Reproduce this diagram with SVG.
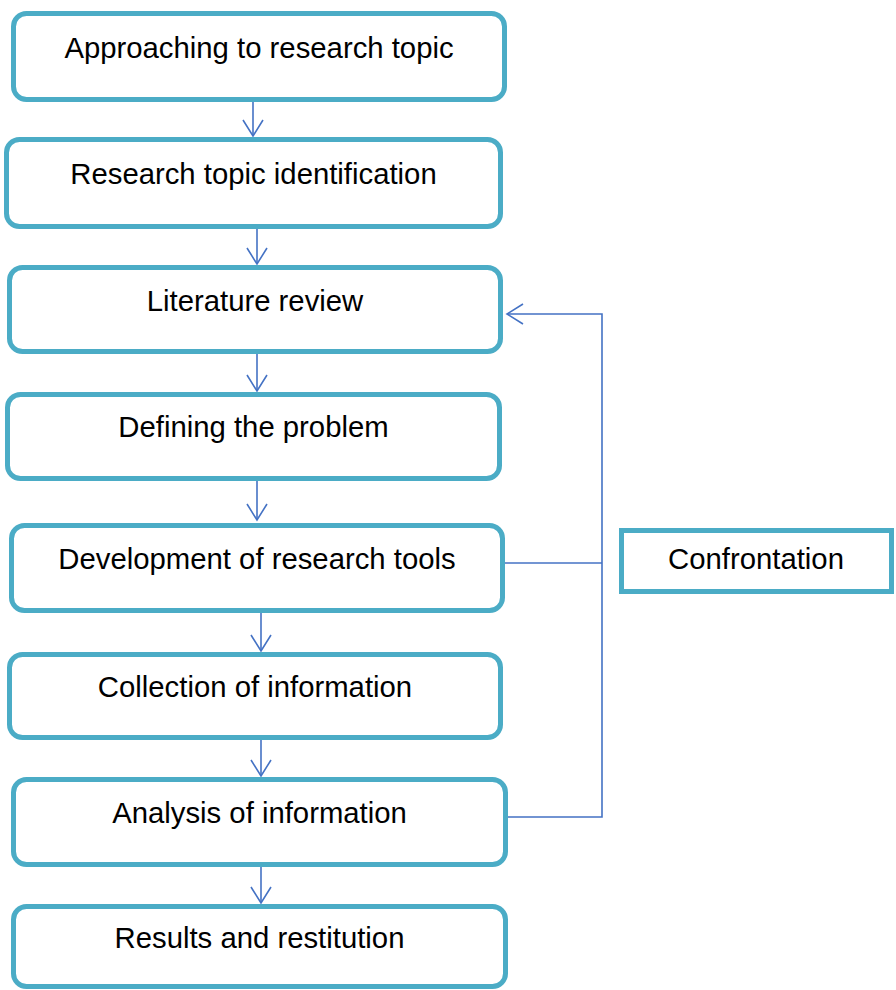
<svg xmlns="http://www.w3.org/2000/svg" width="896" height="990" viewBox="0 0 896 990">
  <style>
    .box { fill: #ffffff; stroke: #4BACC6; stroke-width: 5; }
    .lbl { font-family: "Liberation Sans", Arial, sans-serif; font-size: 29.3px; fill: #000000; text-anchor: middle; }
    .conn { fill: none; stroke: #4472C4; stroke-width: 1.6; }
  </style>
  <defs>
    <marker id="open-arrow" markerUnits="userSpaceOnUse" markerWidth="20" markerHeight="22" viewBox="-17 -11 18 22" refX="0" refY="0" orient="auto">
      <path d="M-16,-10 L0,0 L-16,10" fill="none" stroke="#4472C4" stroke-width="1.6"/>
    </marker>
  </defs>

  <rect width="896" height="990" fill="#ffffff"/>

  <g id="connectors">
    <line class="conn" x1="253" y1="102" x2="253" y2="136" marker-end="url(#open-arrow)"/>
    <line class="conn" x1="257" y1="229" x2="257" y2="264" marker-end="url(#open-arrow)"/>
    <line class="conn" x1="257" y1="354" x2="257" y2="391" marker-end="url(#open-arrow)"/>
    <line class="conn" x1="257" y1="481" x2="257" y2="520" marker-end="url(#open-arrow)"/>
    <line class="conn" x1="261" y1="613" x2="261" y2="651" marker-end="url(#open-arrow)"/>
    <line class="conn" x1="261" y1="740" x2="261" y2="776" marker-end="url(#open-arrow)"/>
    <line class="conn" x1="261" y1="867" x2="261" y2="903" marker-end="url(#open-arrow)"/>
    <!-- feedback loop through Confrontation back to the literature review -->
    <polyline class="conn" points="505,563 602,563"/>
    <polyline class="conn" points="508,817 602,817 602,314 507,314" marker-end="url(#open-arrow)"/>
  </g>

  <g id="approaching">
    <rect class="box" x="13.5" y="13.5" width="491" height="86" rx="13"/>
    <text class="lbl" x="259" y="58">Approaching to research topic</text>
  </g>
  <g id="identification">
    <rect class="box" x="6.5" y="139.5" width="494" height="87" rx="13"/>
    <text class="lbl" x="253.5" y="184">Research topic identification</text>
  </g>
  <g id="literature">
    <rect class="box" x="9.5" y="267.5" width="491" height="84" rx="13"/>
    <text class="lbl" x="255" y="311">Literature review</text>
  </g>
  <g id="problem">
    <rect class="box" x="7.5" y="394.5" width="492" height="84" rx="13"/>
    <text class="lbl" x="253.5" y="437">Defining the problem</text>
  </g>
  <g id="tools">
    <rect class="box" x="11.5" y="525.5" width="491" height="85" rx="13"/>
    <text class="lbl" x="257" y="569">Development of research tools</text>
  </g>
  <g id="collection">
    <rect class="box" x="9.5" y="654.5" width="491" height="83" rx="13"/>
    <text class="lbl" x="255" y="697">Collection of information</text>
  </g>
  <g id="analysis">
    <rect class="box" x="13.5" y="779.5" width="492" height="85" rx="13"/>
    <text class="lbl" x="259.5" y="823">Analysis of information</text>
  </g>
  <g id="results">
    <rect class="box" x="13.5" y="906.5" width="492" height="80" rx="13"/>
    <text class="lbl" x="259.5" y="948">Results and restitution</text>
  </g>
  <g id="confrontation">
    <rect class="box" x="621.5" y="530.5" width="270" height="61"/>
    <text class="lbl" x="756" y="569">Confrontation</text>
  </g>
</svg>
